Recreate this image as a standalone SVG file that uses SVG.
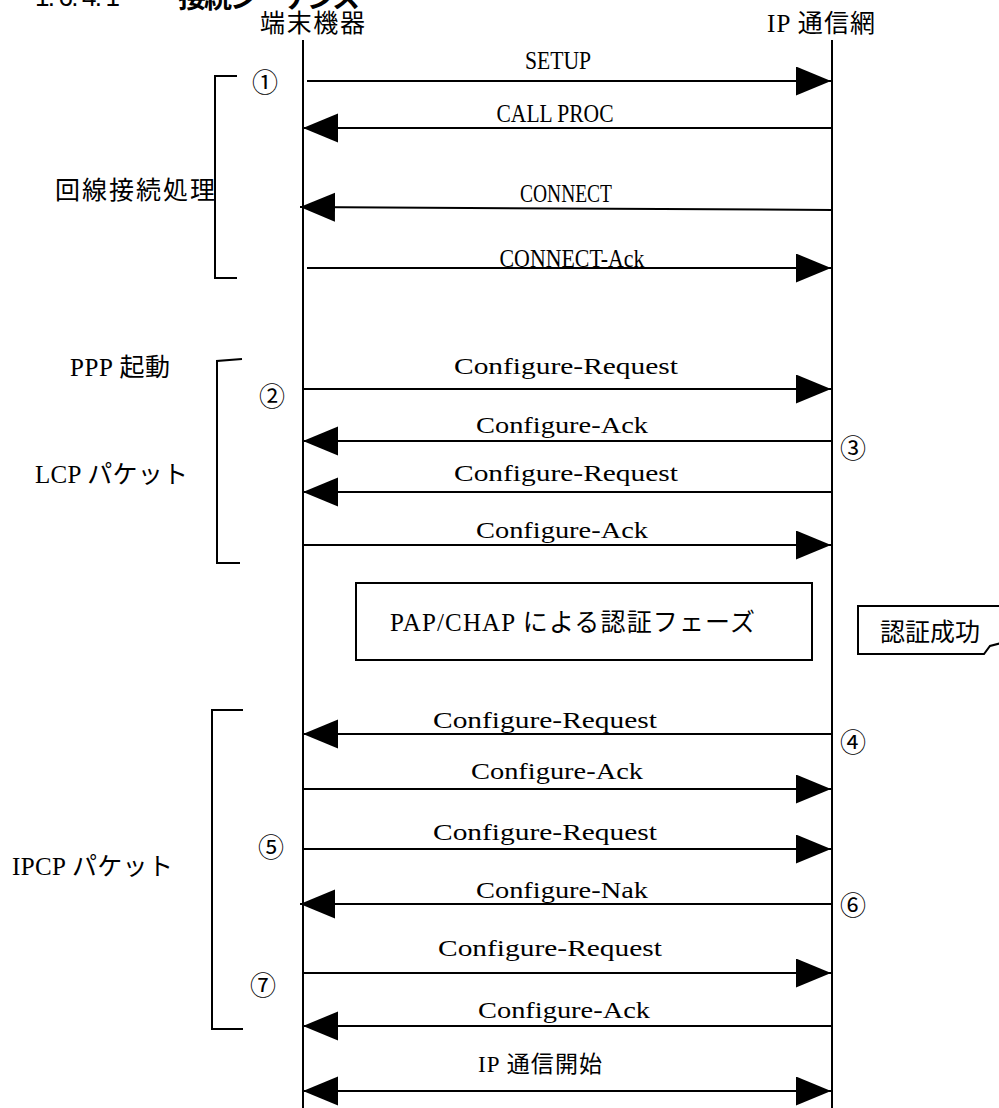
<svg xmlns="http://www.w3.org/2000/svg" width="999" height="1108" viewBox="0 0 999 1108">
<style>
.ln{stroke:#000;stroke-width:2;fill:none}
.msg{stroke:#000;stroke-width:2;fill:none;marker-end:url(#ah)}
.lbl{font-family:'Liberation Serif','Noto Sans CJK JP',serif;font-size:23px;fill:#000;text-anchor:middle}
.cap{font-size:25px}
.jp{font-family:'Liberation Serif','Noto Sans CJK JP',serif;font-size:25px;fill:#000}
.num{font-family:'Noto Sans CJK JP','DejaVu Sans',sans-serif;font-size:26px;fill:#000;text-anchor:middle}
</style>
<defs>
<marker id="ah" markerUnits="userSpaceOnUse" markerWidth="36" markerHeight="30" refX="35" refY="14.5" orient="auto-start-reverse">
<path d="M0,0 L35,14.5 L0,29 Z" fill="#000"/>
</marker>
</defs>
<rect width="999" height="1108" fill="#fff"/>
<g id="title">
<text x="35" y="6" font-family="'Liberation Sans',sans-serif" font-size="26" textLength="85">1. 6. 4. 1</text>
<text x="178" y="8" font-family="'Noto Sans CJK JP',sans-serif" font-size="28" font-weight="bold" textLength="182">接続シーケンス</text>
</g>
<g id="terminal">
<text class="jp" x="260" y="32" textLength="105">端末機器</text>
<line class="ln" x1="303" y1="40" x2="303" y2="1108"/>
</g>
<g id="network">
<text class="jp" x="767" y="32" textLength="108">IP 通信網</text>
<line class="ln" x1="832" y1="40" x2="832" y2="1108"/>
</g>
<g id="phase-labels">
<text class="jp" x="55" y="199" textLength="160">回線接続処理</text>
<text class="jp" x="70" y="376" textLength="100">PPP 起動</text>
<text class="jp" x="35" y="483" textLength="153">LCP パケット</text>
<text class="jp" x="12" y="875" textLength="161">IPCP パケット</text>
</g>
<g id="brackets">
<path class="ln" d="M237,76 H215 V278 H237"/>
<path class="ln" d="M242,359 L217,361 V563 H240"/>
<path class="ln" d="M243,710 H212 V1029 H243"/>
</g>
<g id="step-numbers">
<text class="num" x="265" y="92">①</text>
<text class="num" x="272" y="406">②</text>
<text class="num" x="853" y="458">③</text>
<text class="num" x="853" y="752">④</text>
<text class="num" x="271" y="857">⑤</text>
<text class="num" x="853" y="915">⑥</text>
<text class="num" x="263" y="995">⑦</text>
</g>
<g id="auth-phase">
<rect x="356" y="583" width="456" height="77" class="ln"/>
<text class="jp" x="390" y="631" textLength="365">PAP/CHAP による認証フェーズ</text>
</g>
<g id="auth-success">
<path class="ln" d="M1005,606 H858 V654 H984 L990,646 L1005,642"/>
<text class="jp" x="880" y="641" textLength="100">認証成功</text>
</g>
<g id="connectors">
<line class="msg" x1="307" y1="81" x2="831" y2="81"/>
<line class="msg" x1="833" y1="128" x2="303" y2="128"/>
<line class="msg" x1="833" y1="210" x2="300" y2="207"/>
<line class="msg" x1="307" y1="268" x2="831" y2="268"/>
<line class="msg" x1="303" y1="389" x2="831" y2="389"/>
<line class="msg" x1="833" y1="441" x2="303" y2="441"/>
<line class="msg" x1="833" y1="492" x2="303" y2="492"/>
<line class="msg" x1="303" y1="545" x2="831" y2="545"/>
<line class="msg" x1="833" y1="734" x2="303" y2="734"/>
<line class="msg" x1="303" y1="789" x2="831" y2="789"/>
<line class="msg" x1="303" y1="849" x2="831" y2="849"/>
<line class="msg" x1="833" y1="904" x2="300" y2="904"/>
<line class="msg" x1="303" y1="973" x2="831" y2="973"/>
<line class="msg" x1="833" y1="1026" x2="303" y2="1026"/>
<line class="msg" x1="303" y1="1091" x2="831" y2="1091" style="marker-start:url(#ah)"/>
</g>
<g id="connector-labels">
<text class="lbl cap" x="558" y="69" textLength="66" lengthAdjust="spacingAndGlyphs">SETUP</text>
<text class="lbl cap" x="555" y="122" textLength="117" lengthAdjust="spacingAndGlyphs">CALL PROC</text>
<text class="lbl cap" x="566" y="202" textLength="92" lengthAdjust="spacingAndGlyphs">CONNECT</text>
<text class="lbl cap" x="572" y="267" textLength="145" lengthAdjust="spacingAndGlyphs">CONNECT-Ack</text>
<text class="lbl" x="566" y="374" textLength="224" lengthAdjust="spacingAndGlyphs">Configure-Request</text>
<text class="lbl" x="562" y="433" textLength="172" lengthAdjust="spacingAndGlyphs">Configure-Ack</text>
<text class="lbl" x="566" y="481" textLength="224" lengthAdjust="spacingAndGlyphs">Configure-Request</text>
<text class="lbl" x="562" y="538" textLength="172" lengthAdjust="spacingAndGlyphs">Configure-Ack</text>
<text class="lbl" x="545" y="728" textLength="224" lengthAdjust="spacingAndGlyphs">Configure-Request</text>
<text class="lbl" x="557" y="779" textLength="172" lengthAdjust="spacingAndGlyphs">Configure-Ack</text>
<text class="lbl" x="545" y="840" textLength="224" lengthAdjust="spacingAndGlyphs">Configure-Request</text>
<text class="lbl" x="562" y="898" textLength="172" lengthAdjust="spacingAndGlyphs">Configure-Nak</text>
<text class="lbl" x="550" y="956" textLength="224" lengthAdjust="spacingAndGlyphs">Configure-Request</text>
<text class="lbl" x="564" y="1018" textLength="172" lengthAdjust="spacingAndGlyphs">Configure-Ack</text>
<text class="lbl" x="540" y="1072" textLength="124">IP 通信開始</text>
</g>
</svg>
